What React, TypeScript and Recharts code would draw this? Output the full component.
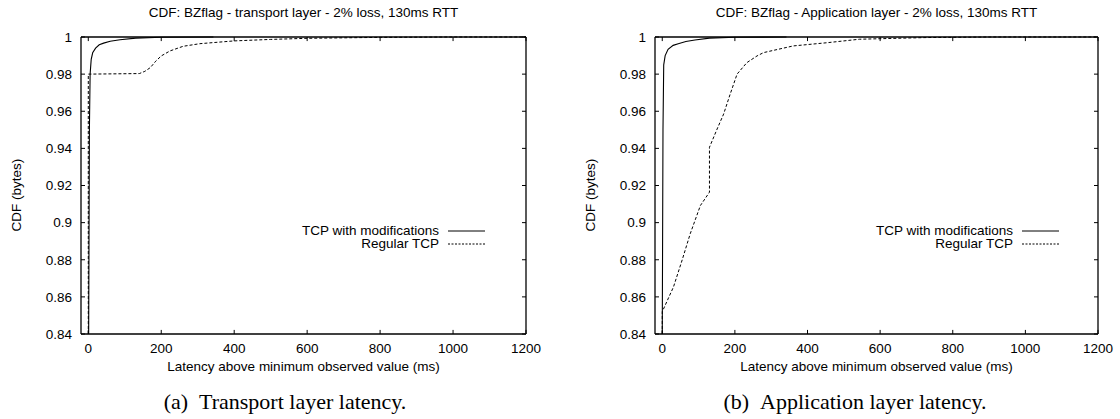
import React from "react";
import { LineChart, Line, XAxis, YAxis, Legend, ReferenceLine } from "recharts";

const FONT = '"Liberation Sans", Arial, sans-serif';
const FS = 13.5;

const xDomain = [-20, 1200];
const yDomain = [0.84, 1];
const xTicks = [0, 200, 400, 600, 800, 1000, 1200];
const yTicks = [0.84, 0.86, 0.88, 0.9, 0.92, 0.94, 0.96, 0.98, 1];

const seriesNames = ["TCP with modifications", "Regular TCP"];

// (a) transport layer
const transportModified = [
  { x: 1, y: 0.84 },
  { x: 3, y: 0.95 },
  { x: 5, y: 0.98 },
  { x: 8, y: 0.988 },
  { x: 12, y: 0.9915 },
  { x: 20, y: 0.994 },
  { x: 30, y: 0.9958 },
  { x: 42, y: 0.9967 },
  { x: 60, y: 0.9977 },
  { x: 87, y: 0.9985 },
  { x: 130, y: 0.9994 },
  { x: 200, y: 0.9999 },
  { x: 343, y: 1 },
];
const transportRegular = [
  { x: 0, y: 0.84 },
  { x: 0, y: 0.98 },
  { x: 140, y: 0.9803 },
  { x: 155, y: 0.9815 },
  { x: 170, y: 0.9835 },
  { x: 185, y: 0.987 },
  { x: 200, y: 0.9898 },
  { x: 224, y: 0.9925 },
  { x: 260, y: 0.995 },
  { x: 306, y: 0.9964 },
  { x: 400, y: 0.9979 },
  { x: 500, y: 0.9987 },
  { x: 600, y: 0.9993 },
  { x: 800, y: 0.9998 },
  { x: 1000, y: 1 },
  { x: 1200, y: 1 },
];

// (b) application layer
const appModified = [
  { x: 0, y: 0.84 },
  { x: 2, y: 0.95 },
  { x: 4, y: 0.985 },
  { x: 8, y: 0.99 },
  { x: 16, y: 0.9934 },
  { x: 30, y: 0.9955 },
  { x: 44, y: 0.9964 },
  { x: 65, y: 0.9976 },
  { x: 90, y: 0.9984 },
  { x: 130, y: 0.9994 },
  { x: 200, y: 0.9999 },
  { x: 342, y: 1 },
];
const appRegular = [
  { x: 0, y: 0.84 },
  { x: 0, y: 0.852 },
  { x: 31, y: 0.8654 },
  { x: 55, y: 0.88 },
  { x: 77, y: 0.894 },
  { x: 105, y: 0.9092 },
  { x: 130, y: 0.9164 },
  { x: 130, y: 0.9406 },
  { x: 151, y: 0.9504 },
  { x: 169, y: 0.9585 },
  { x: 187, y: 0.9692 },
  { x: 206, y: 0.98 },
  { x: 233, y: 0.9862 },
  { x: 261, y: 0.9898 },
  { x: 279, y: 0.9916 },
  { x: 361, y: 0.9952 },
  { x: 453, y: 0.9969 },
  { x: 543, y: 0.9988 },
  { x: 728, y: 0.9997 },
  { x: 900, y: 1 },
  { x: 1200, y: 1 },
];

// inward tick length in data units (~4px each way)
const X_TICK_LEN = 11;
const Y_TICK_LEN = 0.0022;

const tickStyle = { fontSize: FS, fontFamily: FONT, fill: "#000" };

// gnuplot-style key: text right-aligned, sample line after it
const makeLegend = (textRight: number, top: number) => (props: any) => {
  const payload = [...(props.payload || [])].sort(
    (a: any, b: any) => seriesNames.indexOf(a.value) - seriesNames.indexOf(b.value)
  );
  return (
    <div style={{ position: "relative", height: 0 }}>
      {payload.map((entry: any, i: number) => {
        const dashed = entry.payload && entry.payload.strokeDasharray;
        const y = top + i * 13;
        return (
          <React.Fragment key={i}>
            <div
              style={{
                position: "absolute",
                right: 560 - textRight,
                top: y - 8,
                fontSize: FS,
                fontFamily: FONT,
                lineHeight: "16px",
                whiteSpace: "nowrap",
                color: "#000",
              }}
            >
              {entry.value}
            </div>
            <svg
              style={{ position: "absolute", left: textRight + 9, top: y - 2 }}
              width={38}
              height={4}
            >
              <line
                x1={0}
                x2={37}
                y1={2}
                y2={2}
                stroke="#000"
                strokeWidth={1}
                strokeDasharray={dashed ? "2 1.5" : undefined}
              />
            </svg>
          </React.Fragment>
        );
      })}
    </div>
  );
};

interface PanelProps {
  left: number;
  title: string;
  caption: string;
  captionCenter: number;
  modified: { x: number; y: number }[];
  regular: { x: number; y: number }[];
  yAxisWidth: number;
  rightMargin: number;
  legendRight: number;
}

const Panel = ({
  left,
  title,
  caption,
  captionCenter,
  modified,
  regular,
  yAxisWidth,
  rightMargin,
  legendRight,
}: PanelProps) => {
  const plotCenter = (yAxisWidth + 560 - rightMargin) / 2;
  const frame = { stroke: "#000", strokeWidth: 1.3 };
  const tickMark = { stroke: "#000", strokeWidth: 1 };
  return (
    <div style={{ position: "absolute", left, top: 0, width: 560, height: 419 }}>
      <div
        style={{
          position: "absolute",
          left: 0,
          width: plotCenter * 2,
          top: 5,
          textAlign: "center",
          fontSize: FS,
          fontFamily: FONT,
          lineHeight: "16px",
          whiteSpace: "nowrap",
          color: "#000",
        }}
      >
        {title}
      </div>
      <div
        style={{
          position: "absolute",
          left: yAxisWidth - 81 + 17 - 50,
          top: 195 - 8,
          width: 100,
          textAlign: "center",
          transform: "rotate(-90deg)",
          fontSize: FS,
          fontFamily: FONT,
          lineHeight: "16px",
          whiteSpace: "nowrap",
          color: "#000",
        }}
      >
        CDF (bytes)
      </div>
      <LineChart
        width={560}
        height={380}
        margin={{ top: 37, right: rightMargin, bottom: 0, left: 0 }}
        style={{ position: "absolute", left: 0, top: 0 }}
      >
        <XAxis
          xAxisId="bottom"
          type="number"
          dataKey="x"
          domain={xDomain}
          ticks={xTicks}
          height={46}
          axisLine={false}
          tickLine={false}
          tickSize={0}
          tickMargin={9}
          tick={tickStyle}
          label={{
            value: "Latency above minimum observed value (ms)",
            position: "insideBottom",
            offset: 9,
            style: { fontSize: FS, fontFamily: FONT, fill: "#000" },
          }}
        />
        <YAxis
          yAxisId="left"
          type="number"
          domain={yDomain}
          ticks={yTicks}
          width={yAxisWidth}
          axisLine={false}
          tickLine={false}
          tickSize={0}
          tickMargin={9}
          tick={tickStyle}
        />
        {/* plot border */}
        <ReferenceLine xAxisId="bottom" yAxisId="left" x={xDomain[0]} {...frame} />
        <ReferenceLine xAxisId="bottom" yAxisId="left" x={xDomain[1]} {...frame} />
        <ReferenceLine xAxisId="bottom" yAxisId="left" y={yDomain[0]} {...frame} />
        <ReferenceLine xAxisId="bottom" yAxisId="left" y={yDomain[1]} {...frame} />
        {/* inward ticks, mirrored on top and right */}
        {xTicks.map((t) => (
          <ReferenceLine
            key={`xb${t}`}
            xAxisId="bottom"
            yAxisId="left"
            segment={[
              { x: t, y: yDomain[0] },
              { x: t, y: yDomain[0] + Y_TICK_LEN },
            ]}
            {...tickMark}
          />
        ))}
        {xTicks.map((t) => (
          <ReferenceLine
            key={`xt${t}`}
            xAxisId="bottom"
            yAxisId="left"
            segment={[
              { x: t, y: yDomain[1] },
              { x: t, y: yDomain[1] - Y_TICK_LEN },
            ]}
            {...tickMark}
          />
        ))}
        {yTicks.map((t) => (
          <ReferenceLine
            key={`yl${t}`}
            xAxisId="bottom"
            yAxisId="left"
            segment={[
              { x: xDomain[0], y: t },
              { x: xDomain[0] + X_TICK_LEN, y: t },
            ]}
            {...tickMark}
          />
        ))}
        {yTicks.map((t) => (
          <ReferenceLine
            key={`yr${t}`}
            xAxisId="bottom"
            yAxisId="left"
            segment={[
              { x: xDomain[1], y: t },
              { x: xDomain[1] - X_TICK_LEN, y: t },
            ]}
            {...tickMark}
          />
        ))}
        <Legend
          verticalAlign="top"
          content={makeLegend(legendRight, 231)}
          wrapperStyle={{ left: 0, top: 0, width: 560, height: 0 }}
        />
        <Line
          xAxisId="bottom"
          yAxisId="left"
          data={modified}
          dataKey="y"
          name={seriesNames[0]}
          type="linear"
          stroke="#000"
          strokeWidth={1.1}
          dot={false}
          activeDot={false}
          isAnimationActive={false}
        />
        <Line
          xAxisId="bottom"
          yAxisId="left"
          data={regular}
          dataKey="y"
          name={seriesNames[1]}
          type="linear"
          stroke="#000"
          strokeWidth={1}
          strokeDasharray="3 2"
          dot={false}
          activeDot={false}
          isAnimationActive={false}
        />
      </LineChart>
      <div
        style={{
          position: "absolute",
          left: captionCenter - 200,
          width: 400,
          top: 389,
          textAlign: "center",
          fontSize: 22,
          fontFamily: '"Liberation Serif", "Times New Roman", serif',
          lineHeight: "26px",
          whiteSpace: "nowrap",
          color: "#000",
        }}
      >
        {caption}
      </div>
    </div>
  );
};

export default function App() {
  return (
    <div
      style={{
        position: "absolute",
        left: 0,
        top: 0,
        width: 1120,
        height: 419,
        background: "#fff",
        overflow: "hidden",
      }}
    >
      <Panel
        left={0}
        title="CDF: BZflag - transport layer - 2% loss, 130ms RTT"
        caption={"(a)\u00a0\u00a0Transport layer latency."}
        captionCenter={285}
        modified={transportModified}
        regular={transportRegular}
        yAxisWidth={81}
        rightMargin={34}
        legendRight={439}
      />
      <Panel
        left={560}
        title="CDF: BZflag - Application layer - 2% loss, 130ms RTT"
        caption={"(b)\u00a0\u00a0Application layer latency."}
        captionCenter={295}
        modified={appModified}
        regular={appRegular}
        yAxisWidth={95}
        rightMargin={22}
        legendRight={453}
      />
    </div>
  );
}
